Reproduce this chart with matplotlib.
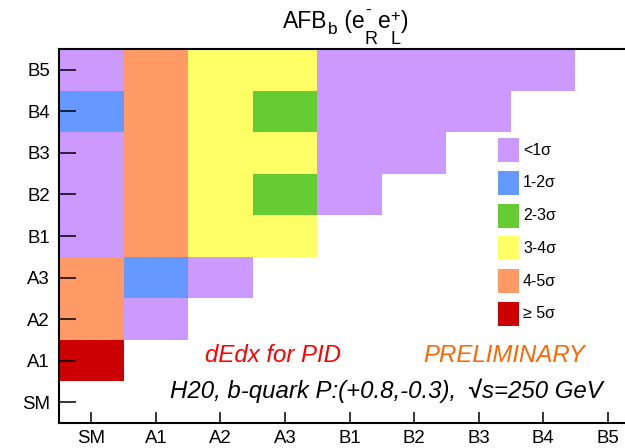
import numpy as np
import matplotlib.pyplot as plt
from matplotlib.colors import ListedColormap, BoundaryNorm
from matplotlib.patches import Rectangle

plt.rcParams['font.family'] = ['Liberation Sans', 'DejaVu Sans']

models = ['SM', 'A1', 'A2', 'A3', 'B1', 'B2', 'B3', 'B4', 'B5']

# significance class of each pair: 0 <1s, 1 1-2s, 2 2-3s, 3 3-4s, 4 4-5s, 5 >=5s
# one list per x model, rows start just above the diagonal and go up to B5
col_SM = [5, 4, 4, 0, 0, 0, 1, 0]
col_A1 = [0, 1, 4, 4, 4, 4, 4]
col_A2 = [0, 3, 3, 3, 3, 3]
col_A3 = [3, 2, 3, 2, 3]
col_B1 = [0, 0, 0, 0]
col_B2 = [0, 0, 0]
col_B3 = [0, 0]
col_B4 = [0]
columns = [col_SM, col_A1, col_A2, col_A3, col_B1, col_B2, col_B3, col_B4]

sig_labels = ['<1σ', '1-2σ', '2-3σ', '3-4σ', '4-5σ', '≥ 5σ']
sig_colors = ['#cc99ff', '#6699ff', '#66cc33', '#ffff66', '#ff9966', '#cc0000']

n = len(models)
grid = np.full((n, n), np.nan)
for i, col in enumerate(columns):
    for k, v in enumerate(col):
        grid[i + 1 + k, i] = v

W, H = 625, 448
fig = plt.figure(figsize=(W / 100, H / 100), dpi=100)
ax = fig.add_axes([59 / W, 25 / H, 581 / W, 374 / H])

cmap = ListedColormap(sig_colors)
norm = BoundaryNorm(np.arange(-0.5, 6.5, 1), cmap.N)
edges = np.arange(-0.5, n + 0.5, 1)
ax.pcolormesh(edges, edges, np.ma.masked_invalid(grid), cmap=cmap, norm=norm)

ax.set_xlim(-0.5, n - 0.5)
ax.set_ylim(-0.5, n - 0.5)
ax.set_xticks(range(n))
ax.set_xticklabels(models)
ax.set_yticks(range(n))
ax.set_yticklabels(models)
ax.tick_params(axis='both', direction='in', width=1.1, labelsize=13.4, colors='black')
ax.tick_params(axis='y', length=12.2, pad=6.5)
ax.tick_params(axis='x', length=7.9, pad=5)
for s in ax.spines.values():
    s.set_linewidth(1.5)
ax.set_axisbelow(False)

# title built piece by piece, ROOT style sub/superscripts
r = fig.canvas.get_renderer()


def put(s, x, base, size, **kw):
    t = fig.text(x / W, 1 - base / H, s, fontsize=size, va='baseline', ha='left', **kw)
    return t.get_window_extent(renderer=r).width


x = 283
x += put('AFB', x, 28, 16.5)
x += put('b', x, 34, 12.5) + 1
x += put(' (e', x, 28, 16.5)
w1 = put('-', x, 15, 12.5)
w2 = put('R', x, 44, 13)
x += max(w1, w2)
x += put('e', x, 28, 16.5)
w1 = put('+', x, 21, 12)
w2 = put('L', x, 44, 13)
x += max(w1, w2)
put(')', x, 28, 16.5)

# legend boxes
for k, (c, lab) in enumerate(zip(sig_colors, sig_labels)):
    yc = 150 + 32.8 * k
    fig.add_artist(Rectangle((498 / W, 1 - (yc + 12) / H), 21 / W, 24 / H,
                             facecolor=c, edgecolor='none', transform=fig.transFigure))
    fig.text(523 / W, 1 - yc / H, lab, fontsize=11.5, va='center', ha='left')

fig.text(205 / W, 1 - 355 / H, 'dEdx for PID', color='#ff0000', style='italic',
         fontsize=17.3, va='center', ha='left')
fig.text(423 / W, 1 - 355 / H, 'PRELIMINARY', color='#ff6600', style='italic',
         fontsize=17.3, va='center', ha='left')

# bottom line, with a heavier root sign
x = 170
x += put('H20, b-quark P:(+0.8,-0.3),  ', x, 398, 17.3, style='italic')
x += put('√', x, 398, 17.3, weight='bold')
put('s=250 GeV', x, 398, 17.3, style='italic')

fig.savefig('out.png', dpi=100)
